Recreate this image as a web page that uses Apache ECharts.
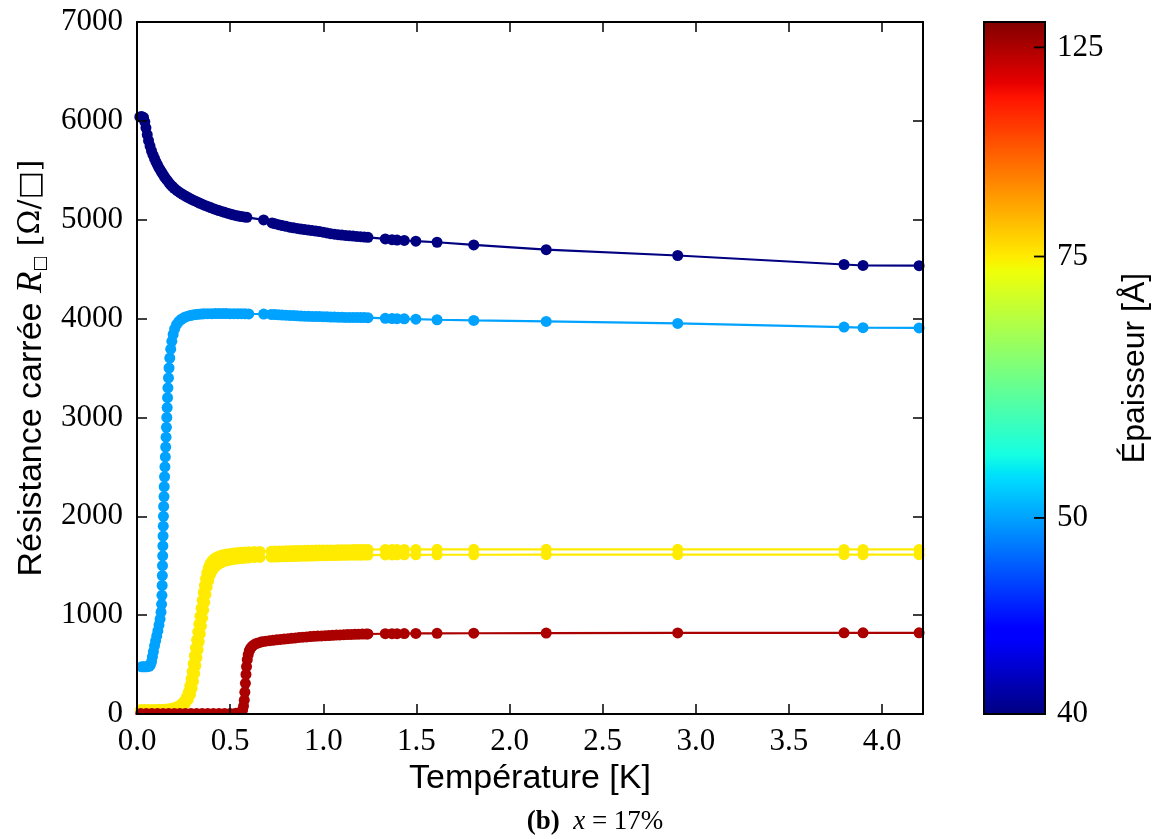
<!DOCTYPE html>
<html><head><meta charset="utf-8">
<script src="https://cdn.jsdelivr.net/npm/echarts@6/dist/echarts.min.js"></script>
<style>html,body{margin:0;padding:0;background:#fff}#c{width:1167px;height:839px}</style>
</head><body><div id="c"></div>
<script>
// ---- data ----
const thicknesses = [40, 50, 75, 75, 125];   // Å, one per curve
const xTicks = [0, 0.5, 1.0, 1.5, 2.0, 2.5, 3.0, 3.5, 4.0];
const yTicks = [0, 1000, 2000, 3000, 4000, 5000, 6000, 7000];
const cbTicks = [40, 50, 75, 125];
const cbRange = [40, 136];

const curve40 = [[0.015,6040],[0.025,6045],[0.035,6035],[0.042,5990],[0.048,5930],[0.055,5860],[0.062,5800],[0.07,5745],[0.078,5695],[0.086,5655],[0.094,5620],[0.102,5585],[0.11,5555],[0.118,5525],[0.126,5500],[0.134,5475],[0.142,5450],[0.15,5428],[0.16,5402],[0.17,5378],[0.18,5356],[0.19,5336],[0.2,5318],[0.215,5295],[0.23,5275],[0.245,5257],[0.26,5240],[0.275,5224],[0.29,5209],[0.305,5195],[0.32,5182],[0.335,5169],[0.35,5157],[0.365,5145],[0.38,5134],[0.395,5123],[0.41,5112],[0.425,5102],[0.44,5093],[0.455,5084],[0.47,5075],[0.485,5066],[0.5,5058],[0.515,5050],[0.53,5043],[0.545,5037],[0.56,5032],[0.575,5028],[0.59,5024],[0.68,4998],[0.725,4968],[0.74,4960],[0.76,4950],[0.78,4941],[0.8,4933],[0.82,4925],[0.84,4918],[0.86,4912],[0.88,4906],[0.9,4900],[0.92,4895],[0.94,4890],[0.96,4885],[0.98,4880],[1.0,4874],[1.02,4866],[1.04,4859],[1.06,4854],[1.08,4849],[1.1,4845],[1.12,4841],[1.14,4837],[1.16,4834],[1.18,4831],[1.2,4828],[1.22,4825],[1.24,4822],[1.333,4806],[1.369,4798],[1.396,4794],[1.435,4790],[1.497,4783],[1.611,4772],[1.808,4745],[2.197,4697],[2.903,4638],[3.796,4547],[3.898,4537],[4.199,4535]];

const curve50 = [[0.025,478],[0.035,478],[0.045,478],[0.055,479],[0.065,482],[0.072,495],[0.078,530],[0.083,580],[0.088,630],[0.094,690],[0.1,740],[0.106,790],[0.112,840],[0.118,900],[0.124,960],[0.129,1030],[0.132,1110],[0.134,1200],[0.135,1300],[0.136,1400],[0.137,1500],[0.138,1600],[0.139,1700],[0.14,1800],[0.141,1900],[0.142,2000],[0.143,2100],[0.145,2200],[0.146,2300],[0.148,2400],[0.15,2500],[0.152,2600],[0.154,2700],[0.156,2800],[0.158,2900],[0.16,3000],[0.162,3100],[0.164,3200],[0.166,3300],[0.169,3400],[0.172,3500],[0.176,3600],[0.181,3690],[0.187,3770],[0.194,3840],[0.202,3895],[0.212,3938],[0.224,3970],[0.238,3993],[0.253,4010],[0.268,4022],[0.285,4031],[0.3,4037],[0.315,4041],[0.33,4044],[0.345,4046],[0.36,4048],[0.38,4049],[0.4,4050],[0.42,4051],[0.44,4051],[0.46,4051],[0.48,4051],[0.5,4050],[0.52,4050],[0.54,4049],[0.56,4049],[0.58,4048],[0.6,4047],[0.68,4046],[0.72,4042],[0.74,4040],[0.76,4038],[0.78,4036],[0.8,4034],[0.82,4032],[0.84,4030],[0.86,4028],[0.88,4026],[0.9,4024],[0.92,4023],[0.94,4022],[0.96,4021],[0.98,4020],[1.0,4019],[1.02,4018],[1.04,4016],[1.06,4015],[1.08,4014],[1.1,4013],[1.12,4012],[1.14,4012],[1.16,4011],[1.18,4011],[1.2,4010],[1.22,4010],[1.24,4009],[1.333,4002],[1.369,4000],[1.396,3999],[1.435,3997],[1.497,3994],[1.611,3988],[1.808,3981],[2.197,3971],[2.903,3951],[3.796,3914],[3.898,3908],[4.199,3905]];

const curve75a = [[0.02,45],[0.04,45],[0.06,45],[0.08,45],[0.1,46],[0.12,47],[0.14,48],[0.16,50],[0.18,55],[0.2,64],[0.22,80],[0.24,105],[0.255,135],[0.265,170],[0.275,220],[0.283,285],[0.29,355],[0.296,430],[0.302,510],[0.308,590],[0.314,670],[0.32,750],[0.326,830],[0.332,910],[0.338,990],[0.344,1070],[0.35,1150],[0.356,1230],[0.362,1300],[0.368,1370],[0.375,1430],[0.383,1480],[0.392,1520],[0.402,1550],[0.414,1572],[0.428,1588],[0.444,1600],[0.46,1610],[0.48,1618],[0.5,1624],[0.52,1629],[0.54,1633],[0.56,1636],[0.58,1639],[0.6,1641],[0.63,1643],[0.66,1645],[0.72,1647],[0.74,1648],[0.76,1649],[0.78,1650],[0.8,1651],[0.82,1652],[0.84,1653],[0.86,1654],[0.88,1655],[0.9,1656],[0.92,1657],[0.94,1657],[0.96,1658],[0.98,1658],[1.0,1659],[1.02,1659],[1.04,1660],[1.06,1660],[1.08,1661],[1.1,1661],[1.12,1662],[1.14,1662],[1.16,1663],[1.18,1663],[1.2,1664],[1.22,1664],[1.24,1664],[1.333,1665],[1.369,1665],[1.396,1665],[1.435,1665],[1.497,1665],[1.611,1666],[1.808,1666],[2.197,1666],[2.903,1666],[3.796,1665],[3.898,1665],[4.199,1665]];

const curve75b = [[0.02,35],[0.04,35],[0.06,35],[0.08,35],[0.1,36],[0.12,37],[0.14,38],[0.16,40],[0.18,44],[0.2,50],[0.22,60],[0.24,78],[0.26,106],[0.275,145],[0.287,195],[0.296,260],[0.303,330],[0.31,410],[0.316,490],[0.322,570],[0.328,650],[0.334,730],[0.34,810],[0.346,890],[0.352,970],[0.358,1050],[0.364,1130],[0.37,1210],[0.377,1285],[0.385,1350],[0.394,1405],[0.404,1445],[0.416,1478],[0.43,1503],[0.446,1523],[0.464,1538],[0.484,1550],[0.5,1557],[0.52,1564],[0.54,1569],[0.56,1573],[0.58,1576],[0.6,1579],[0.63,1582],[0.66,1584],[0.72,1587],[0.74,1588],[0.76,1589],[0.78,1590],[0.8,1591],[0.82,1592],[0.84,1593],[0.86,1594],[0.88,1595],[0.9,1596],[0.92,1597],[0.94,1598],[0.96,1599],[0.98,1600],[1.0,1601],[1.02,1602],[1.04,1603],[1.06,1603],[1.08,1604],[1.1,1605],[1.12,1605],[1.14,1606],[1.16,1606],[1.18,1607],[1.2,1607],[1.22,1608],[1.24,1608],[1.333,1609],[1.369,1609],[1.396,1610],[1.435,1610],[1.497,1610],[1.611,1611],[1.808,1611],[2.197,1612],[2.903,1612],[3.796,1612],[3.898,1612],[4.199,1612]];

const curve125 = [[0.02,5],[0.05,5],[0.08,5],[0.11,5],[0.14,5],[0.17,5],[0.2,5],[0.23,5],[0.26,5],[0.29,5],[0.32,5],[0.35,5],[0.38,5],[0.41,5],[0.44,5],[0.47,5],[0.5,6],[0.53,8],[0.55,12],[0.56,20],[0.567,40],[0.572,80],[0.576,140],[0.579,220],[0.582,310],[0.585,400],[0.588,480],[0.592,550],[0.597,600],[0.603,640],[0.61,665],[0.618,685],[0.628,700],[0.64,712],[0.655,722],[0.67,730],[0.69,737],[0.71,742],[0.73,746],[0.75,750],[0.77,754],[0.79,758],[0.81,762],[0.83,766],[0.85,770],[0.87,774],[0.89,777],[0.91,780],[0.93,783],[0.95,786],[0.97,788],[0.99,790],[1.01,792],[1.03,794],[1.05,796],[1.07,798],[1.09,800],[1.11,802],[1.13,804],[1.15,805],[1.17,806],[1.19,807],[1.21,808],[1.23,809],[1.24,810],[1.333,812],[1.369,813],[1.396,813],[1.435,814],[1.497,815],[1.611,816],[1.808,817],[2.197,819],[2.903,820],[3.796,821],[3.898,821],[4.199,821]];

const curves = [curve40, curve50, curve75a, curve75b, curve125];

// ---- jet colormap on a 1/thickness scale ----
const jetSeg = {
  r: [[0,0],[0.35,0],[0.66,1],[0.89,1],[1,0.5]],
  g: [[0,0],[0.125,0],[0.375,1],[0.64,1],[0.91,0],[1,0]],
  b: [[0,0.5],[0.11,1],[0.34,1],[0.65,0],[1,0]]
};
function segVal(seg, x) {
  for (let i = 1; i < seg.length; i++) {
    if (x <= seg[i][0]) {
      const [x0, y0] = seg[i-1], [x1, y1] = seg[i];
      return y0 + (y1 - y0) * (x - x0) / (x1 - x0);
    }
  }
  return seg[seg.length-1][1];
}
function jet(x) {
  const c = ['r','g','b'].map(k => Math.round(255 * segVal(jetSeg[k], Math.min(1, Math.max(0, x)))));
  return 'rgb(' + c.join(',') + ')';
}
const toU = t => -1000 / t;           // colour-bar axis value
const uMin = toU(cbRange[0]), uMax = toU(cbRange[1]);
const norm = t => (toU(t) - uMin) / (uMax - uMin);
const jetStops = [0,0.11,0.125,0.34,0.35,0.375,0.64,0.65,0.66,0.89,0.91,1].map(o => ({offset:o, color:jet(o)}));

const serifF = 'Liberation Serif';
const sansF = 'Liberation Sans';
const tickStyle = {inside:true, length:10, lineStyle:{color:'#000', width:1.5}};
const lineStyleAx = {show:true, onZero:false, lineStyle:{color:'#000', width:2}};

const xMax = 4.22, yMax = 7000;

const series = curves.map((d, i) => {
  const col = jet(norm(thicknesses[i]));
  return {
    type:'line', xAxisIndex:0, yAxisIndex:0, data:d,
    symbol:'circle', symbolSize:11, showSymbol:true, showAllSymbol:true,
    lineStyle:{color:col, width:2.2}, itemStyle:{color:col},
    emphasis:{disabled:true}, animation:false, z:2 + i*0.01
  };
});
// colour bar: gradient rectangle + its tick marks, placed through the colour-bar axes
series.push({
  type:'custom', xAxisIndex:2, yAxisIndex:2, data:[[0, uMin]], animation:false, silent:true, z:1,
  renderItem: function(params, api) {
    const p0 = api.coord([0, uMax]);
    const p1 = api.coord([1, uMin]);
    const children = [{type:'rect', shape:{x:p0[0], y:p0[1], width:p1[0]-p0[0], height:p1[1]-p0[1]},
      style:{fill:new echarts.graphic.LinearGradient(0,1,0,0,jetStops), stroke:'#000', lineWidth:2}}];
    cbTicks.forEach(t => {
      const p = api.coord([1, toU(t)]);
      children.push({type:'line', shape:{x1:p[0]-1, y1:p[1], x2:p[0]-11, y2:p[1]},
        style:{stroke:'#000', lineWidth:1.8}});
    });
    return {type:'group', children:children};
  }
});

const chart = echarts.init(document.getElementById('c'), null, {renderer:'canvas'});
const option = {
  backgroundColor:'#fff',
  animation:false,
  grid:[
    {left:137, right:244, top:22, bottom:125},
    {left:984, width:61, top:22, bottom:125}
  ],
  xAxis:[
    {type:'value', gridIndex:0, min:0, max:xMax, interval:0.5, position:'bottom', z:10,
     axisLine:lineStyleAx, axisTick:tickStyle, splitLine:{show:false},
     axisLabel:{margin:12, fontFamily:serifF, fontSize:31, color:'#000', formatter:v => xTicks.includes(v) ? v.toFixed(1) : ''},
     name:'Température [K]', nameLocation:'middle', nameGap:44,
     nameTextStyle:{fontFamily:sansF, fontSize:34, color:'#000'}},
    {type:'value', gridIndex:0, min:0, max:xMax, interval:0.5, position:'top', z:10,
     axisLine:lineStyleAx, axisTick:tickStyle, axisLabel:{show:false}, splitLine:{show:false}},
    {type:'value', gridIndex:1, min:0, max:1, show:false}
  ],
  yAxis:[
    {type:'value', gridIndex:0, min:0, max:yMax, interval:1000, position:'left', z:10,
     axisLine:lineStyleAx, axisTick:tickStyle, splitLine:{show:false},
     axisLabel:{margin:14, fontFamily:serifF, fontSize:31, color:'#000', formatter:v => yTicks.includes(v) ? String(v) : ''},
     name:'Résistance carrée {i|R}{s|□} {m|[Ω/□]}', nameLocation:'middle', nameGap:88, nameRotate:90,
     nameTextStyle:{fontFamily:sansF, fontSize:34, color:'#000',
       rich:{
         i:{fontFamily:serifF, fontStyle:'italic', fontSize:35, color:'#000'},
         s:{fontFamily:'DejaVu Sans', fontSize:17, color:'#000', verticalAlign:'bottom'},
         m:{fontFamily:'DejaVu Serif', fontSize:30, color:'#000'}
       }}},
    {type:'value', gridIndex:0, min:0, max:yMax, interval:1000, position:'right', z:10,
     axisLine:lineStyleAx, axisTick:tickStyle, axisLabel:{show:false}, splitLine:{show:false}},
    {type:'value', gridIndex:1, min:uMin, max:uMax, position:'right', z:10,
     axisLine:{show:false}, splitLine:{show:false}, axisTick:{show:false},
     axisLabel:{margin:12, fontFamily:serifF, fontSize:31, color:'#000', customValues:cbTicks.map(toU),
       formatter:v => String(Math.round(-1000 / v))},
     name:'Épaisseur [Å]', nameLocation:'middle', nameGap:74, nameRotate:90,
     nameTextStyle:{fontFamily:sansF, fontSize:32, color:'#000'}}
  ],
  series:series
};
chart.setOption(option);

// mask for markers that spill below the plot's bottom edge (matplotlib clips them)
const pA = chart.convertToPixel({xAxisIndex:0, yAxisIndex:0}, [0, 0]);
const pB = chart.convertToPixel({xAxisIndex:0, yAxisIndex:0}, [xMax, 0]);
chart.setOption({
  graphic:[
    {type:'rect', z:5, silent:true, shape:{x:pA[0]-6, y:pA[1]+1, width:pB[0]-pA[0]+6, height:8}, style:{fill:'#fff'}},
    {type:'text', z:5, x:(pA[0]+pB[0])/2 + 65, y:822, silent:true,
     style:{text:'{b|(b)}{n|  }{i|x}{n| = 17%}', align:'center', verticalAlign:'middle',
       rich:{
         b:{fontFamily:serifF, fontWeight:'bold', fontSize:27, fill:'#000'},
         i:{fontFamily:serifF, fontStyle:'italic', fontSize:27, fill:'#000'},
         n:{fontFamily:serifF, fontSize:27, fill:'#000'}
       }}}
  ]
});
</script>
</body></html>
